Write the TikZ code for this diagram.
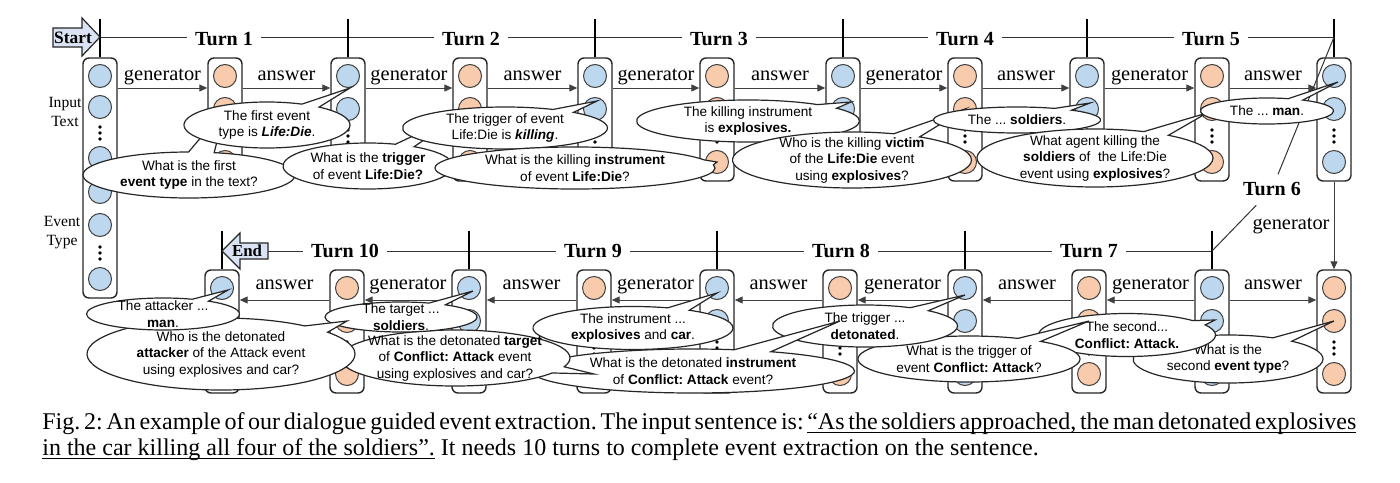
\documentclass[tikz,border=0pt]{standalone}
\usepackage{fontspec}
\setmainfont{Liberation Serif}
\setsansfont{Liberation Sans}
\usetikzlibrary{shapes.callouts,arrows.meta,calc}
\definecolor{cblue}{HTML}{BDD7EE}
\definecolor{corange}{HTML}{F8CBAD}
\definecolor{carrow}{HTML}{DAE3F3}
\frenchspacing
\newcommand\vd[2]{\fill (#1,#2-6) circle (0.95pt) (#1,#2) circle (0.95pt) (#1,#2+6) circle (0.95pt);}
\newcommand\uw[1]{\setbox0\hbox{#1}\rlap{\rule[-2pt]{\wd0}{0.45pt}}\box0\relax}
\newcommand\usp{\leaders\hrule height -1.55pt depth 2pt\hskip 3pt plus 2pt minus 1.7pt\relax}
\begin{document}
\begin{tikzpicture}[x=0.5pt,y=-0.5pt,
  colbox/.style={draw=black!85, line width=0.7pt, rounded corners=3pt, fill=white, minimum width=17pt, inner sep=0pt},
  cir/.style={circle, draw=black!75, line width=0.5pt, minimum size=11.5pt, inner sep=0pt},
  arr/.style={draw=black!75, line width=0.5pt, -{Triangle[length=4pt,width=3.5pt]}},
  lbl/.style={anchor=base, yshift=4pt, font=\fontsize{10.2}{12}\selectfont, inner sep=0pt},
  lblb/.style={anchor=base, yshift=5.5pt, font=\fontsize{10.2}{12}\selectfont, inner sep=0pt},
  tick/.style={line width=1.1pt, black},
  tline/.style={line width=0.5pt, black!80},
  turn/.style={fill=white, font=\bfseries\fontsize{10}{12}\selectfont, inner xsep=4pt, inner ysep=1pt},
  bub/.style={ellipse callout, draw=black!85, line width=0.6pt, fill=white, inner sep=0pt, callout pointer arc=14},
  btxt/.style={font=\sffamily\fontsize{6.8}{8.25}\selectfont, align=center, inner sep=0pt},
  side/.style={font=\fontsize{7.8}{9.5}\selectfont, align=center, inner sep=0pt},
  blockarrow/.style={fill=carrow, draw=black!85, line width=0.6pt}]
\useasboundingbox (0,0) rectangle (1400,482);

% ---------- columns ----------
\node[colbox, minimum height=120pt] (t0) at (100,178) {};
\foreach \k/\y in {1/76,2/107,3/158,4/192,5/225,6/279}{
  \node[cir, fill=cblue] (t0-\k) at (100,\y) {};
}
\vd{100}{133}
\vd{100}{253}

\foreach \n/\x/\c in {1/225/corange,2/348/cblue,3/470/corange,4/595/cblue,5/717/corange,6/843/cblue,7/965/corange,8/1087/cblue,9/1212/corange,10/1334/cblue}{
  \node[colbox, minimum height=61.5pt] (t\n) at (\x,119.5) {};
  \node[cir, fill=\c] (t\n-a) at (\x,76) {};
  \node[cir, fill=\c] (t\n-b) at (\x,109) {};
  \node[cir, fill=\c] (t\n-d) at (\x,162) {};
  \vd{\x}{136}
}
\foreach \n/\x/\c in {1/222/cblue,2/347/corange,3/469/cblue,4/594/corange,5/717/cblue,6/840/corange,7/965/cblue,8/1089/corange,9/1212/cblue,10/1334/corange}{
  \node[colbox, minimum height=61.5pt] (b\n) at (\x,331.5) {};
  \node[cir, fill=\c] (b\n-a) at (\x,288) {};
  \node[cir, fill=\c] (b\n-b) at (\x,321) {};
  \node[cir, fill=\c] (b\n-d) at (\x,374) {};
  \vd{\x}{348}
}

\node[side] (intext) at (65,112) {Input\\Text};
\node[side] (evtype) at (62,233) {Event\\Type};

% ---------- arrows ----------
\foreach \i/\j/\l in {0/1/generator,1/2/answer,2/3/generator,3/4/answer,4/5/generator,5/6/answer,6/7/generator,7/8/answer,8/9/generator,9/10/answer}{
  \draw[arr] (t\i.east |- t1-a.south) -- node[lbl]{\l} (t\j.west |- t1-a.south);
}
\draw[arr] (b9.east |- b1-a.south) -- node[lblb]{answer} (b10.west |- b1-a.south);
\foreach \i/\j/\l in {9/8/generator,8/7/answer,7/6/generator,6/5/answer,5/4/generator,4/3/answer,3/2/generator,2/1/answer}{
  \draw[arr] (b\i.west |- b1-a.south) -- node[lblb]{\l} (b\j.east |- b1-a.south);
}
\draw[arr] (t10.south) -- node[midway, left=2pt, font=\fontsize{10.2}{12}\selectfont, inner sep=0pt]{generator} (b10.north);

% ---------- turn lines ----------
\coordinate (ty) at (0,37);
\coordinate (by) at (0,251);
\coordinate (endr) at (268,251);
\draw[tline] (t0.north |- ty) -- (t10.north |- ty);
\draw[tline] (endr) -- (b9.north |- by);
\foreach \n in {0,2,4,6,8,10}{ \draw[tick] (t\n.north) -- ++(0,-38); }
\foreach \n in {1,3,5,7,9}{ \draw[tick] (b\n.north) -- ++(0,-38); }
\node[turn] (turn1) at (224,39) {Turn 1};
\node[turn] (turn2) at (471,39) {Turn 2};
\node[turn] (turn3) at (719,39) {Turn 3};
\node[turn] (turn4) at (965,39) {Turn 4};
\node[turn] (turn5) at (1211,39) {Turn 5};
\node[turn] (turn10) at (345,251) {Turn 10};
\node[turn] (turn9) at (593,251) {Turn 9};
\node[turn] (turn8) at (841,251) {Turn 8};
\node[turn] (turn7) at (1089,251) {Turn 7};
\node[turn, fill=none, inner sep=1pt] (turn6) at (1272,189) {Turn 6};
\draw[tline, shorten >=3pt] (t10.north |- ty) -- (turn6);
\draw[tline, shorten <=5pt] (turn6) -- (b9.north |- by);

% ---------- start / end ----------
\filldraw[blockarrow] (53,28) -- (82,28) -- (82,18) -- (100,37) -- (82,56) -- (82,47) -- (53,47) -- cycle;
\node[font=\bfseries\fontsize{8.7}{10}\selectfont, inner sep=0pt] (start) at (73,37.5) {Start};
\filldraw[blockarrow] (222,251) -- (240,233) -- (240,243) -- (268,243) -- (268,259) -- (240,259) -- (240,269) -- cycle;
\node[font=\bfseries\fontsize{8.4}{10}\selectfont, inner sep=0pt] (end) at (247,251) {End};

% ---------- bubbles (top row) ----------
\node[bub, minimum width=106pt, minimum height=23pt, callout absolute pointer={(t1-b)}] (q1) at (189,175) {};
\node[btxt] at (q1.center) {What is the first\\\textbf{event type} in the text?};
\node[bub, minimum width=83pt, minimum height=23pt, callout absolute pointer={($(t2-a)+(2,12)$)}] (a1) at (267,125) {};
\node[btxt] at (a1.center) {The first event\\type is \textbf{\textit{Life:Die}}.};
\node[bub, minimum width=85pt, minimum height=23pt, callout absolute pointer={(t3-b)}] (q2) at (368,166) {};
\node[btxt] at (q2.center) {What is the \textbf{trigger}\\of event \textbf{Life:Die?}};
\node[bub, minimum width=102.5pt, minimum height=21pt, callout absolute pointer={($(t4-b)+(2,-8)$)}] (a2) at (505,128) {};
\node[btxt] at (a2.center) {The trigger of event\\Life:Die is \textbf{\textit{killing}}.};
\node[bub, minimum width=140pt, minimum height=21pt, callout absolute pointer={(t5-d)}] (q3) at (575,168) {};
\node[btxt] at (q3.center) {What is the killing \textbf{instrument}\\of event \textbf{Life:Die}?};
\node[bub, minimum width=111.5pt, minimum height=21pt, callout absolute pointer={($(t6-b)+(8,-7)$)}] (a3) at (748,121) {};
\node[btxt] at (a3.center) {The killing instrument\\is \textbf{explosives.}};
\node[bub, minimum width=119.5pt, minimum height=28pt, callout absolute pointer={(t7-b)}] (q4) at (852,160) {};
\node[btxt] at (q4.center) {Who is the killing \textbf{victim}\\of the \textbf{Life:Die} event\\using \textbf{explosives}?};
\node[bub, minimum width=83.5pt, minimum height=13pt, callout absolute pointer={($(t8-b)+(3,-6)$)}] (a4) at (1017,120) {};
\node[btxt] at (a4.center) {The ... \textbf{soldiers}.};
\node[bub, minimum width=118pt, minimum height=29pt, callout absolute pointer={($(t9-b)+(-5,4)$)}] (q5) at (1095,158) {};
\node[btxt] at (q5.center) {What agent killing the\\\textbf{soldiers} of~ the Life:Die\\event using \textbf{explosives}?};
\node[bub, minimum width=66.5pt, minimum height=13pt, callout absolute pointer={($(t10-a)+(4,6)$)}] (a5) at (1267,111) {};
\node[btxt] at (a5.center) {The ... \textbf{man}.};

% ---------- bubbles (bottom row) ----------
\node[bub, minimum width=95pt, minimum height=24pt, callout absolute pointer={(b10-b)}] (q6) at (1228,359) {};
\node[btxt] at (q6.center) {What is the\\second \textbf{event type}?};
\node[bub, minimum width=88.5pt, minimum height=21.5pt, callout absolute pointer={($(b9-b)+(3,-1)$)}] (a6) at (1127,335) {};
\node[btxt] at (a6.center) {The second...\\\textbf{Conflict: Attack.}};
\node[bub, minimum width=111pt, minimum height=23pt, callout absolute pointer={(b8-b)}] (q7) at (969,359) {};
\node[btxt] at (q7.center) {What is the trigger of\\event \textbf{Conflict: Attack}?};
\node[bub, minimum width=92.5pt, minimum height=21pt, callout absolute pointer={($(b7-a)+(0,7)$)}] (a7) at (865,326) {};
\node[btxt] at (a7.center) {The trigger ...\\\textbf{detonated}.};
\node[bub, minimum width=161.5pt, minimum height=22pt, callout absolute pointer={(b6-b)}] (q8) at (693,371) {};
\node[btxt] at (q8.center) {What is the detonated \textbf{instrument}\\of \textbf{Conflict: Attack} event?};
\node[bub, minimum width=100pt, minimum height=21.5pt, callout absolute pointer={($(b5-a)+(0,5)$)}] (a8) at (633,328) {};
\node[btxt] at (a8.center) {The instrument ...\\\textbf{explosives} and \textbf{car}.};
\node[bub, minimum width=115pt, minimum height=28pt, callout absolute pointer={(b4-d)}] (q9) at (455,358) {};
\node[btxt] at (q9.center) {What is the detonated \textbf{target}\\of \textbf{Conflict: Attack} event\\using explosives and car?};
\node[bub, minimum width=76pt, minimum height=15pt, callout absolute pointer={($(b3-a)+(4,3)$)}] (a9) at (401,317) {};
\node[btxt] at (a9.center) {The target ...\\\textbf{soldiers}.};
\node[bub, minimum width=134pt, minimum height=36pt, callout absolute pointer={(b2-b)}] (q10) at (221,354) {};
\node[btxt] at (q10.center) {Who is the detonated\\\textbf{attacker} of the Attack event\\using explosives and car?};
\node[bub, minimum width=76.5pt, minimum height=16pt, callout absolute pointer={($(b1-a)+(6,2)$)}] (a10) at (163,314) {};
\node[btxt] at (a10.center) {The attacker ...\\\textbf{man}.};

% ---------- caption ----------
\node[anchor=north west, inner sep=0pt, text width=657pt, align=justify, font=\fontsize{12}{13}\selectfont] (cap) at (42,412) {{\frenchspacing\spaceskip=3pt plus 2pt minus 1.7pt\relax Fig.~2: An example of our dialogue guided event extraction. The input sentence is: \uw{“As}\usp\uw{the}\usp\uw{soldiers}\usp\uw{approached,}\usp\uw{the}\usp\uw{man}\usp\uw{detonated}\usp\uw{explosives}}\linebreak
{\frenchspacing\uw{in}\usp\uw{the}\usp\uw{car}\usp\uw{killing}\usp\uw{all}\usp\uw{four}\usp\uw{of}\usp\uw{the}\usp\uw{soldiers”.} It needs 10 turns to complete event extraction on the sentence.}};
\end{tikzpicture}
\end{document}
